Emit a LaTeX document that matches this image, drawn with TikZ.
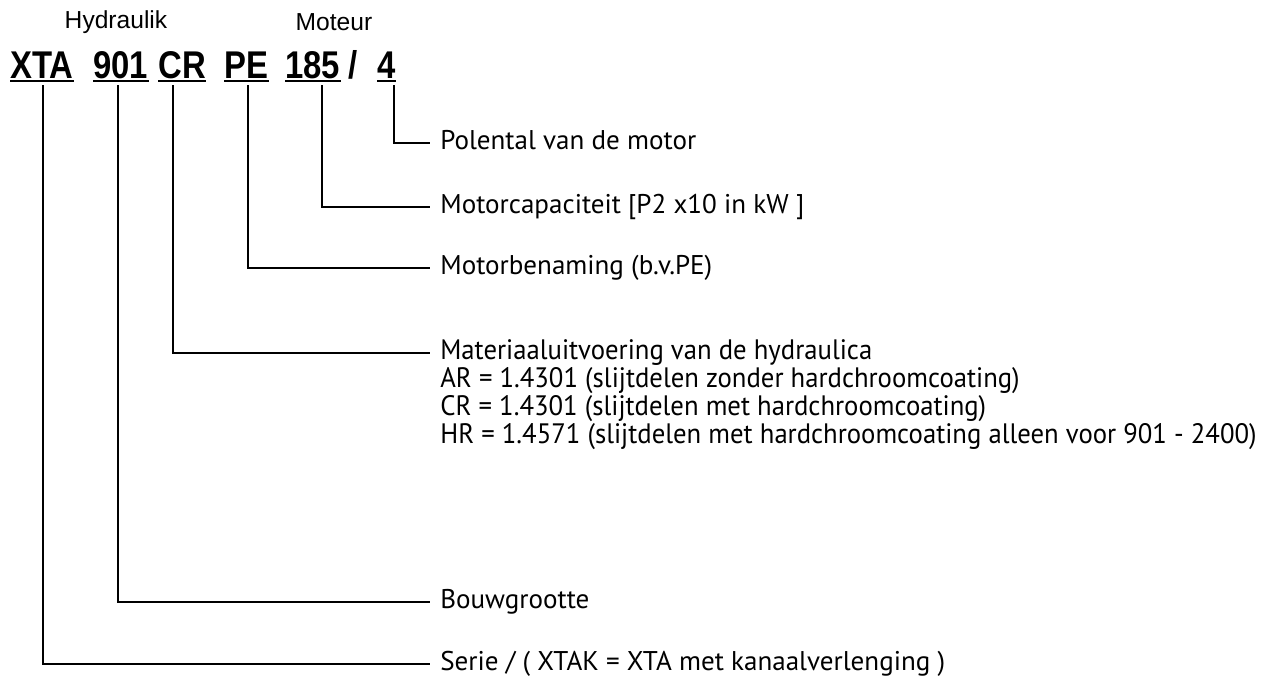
\documentclass[tikz,border=0pt]{standalone}
\usepackage{fontspec}
\setmainfont{Liberation Sans}
\newfontfamily\codefont[FakeStretch=0.85]{Liberation Sans}
\newfontfamily\labelfont{PT Sans}
\newfontfamily\matfont[FakeStretch=0.95]{PT Sans}

\begin{document}
\begin{tikzpicture}[x = 0.02cm, y = -0.02cm,
    code/.style = {font = \codefont\fontsize{22pt}{26pt}\selectfont\bfseries, inner sep = 0pt, anchor = base west},
    head/.style = {font = \fontsize{14pt}{17pt}\selectfont, inner sep = 0pt},
    lbl/.style = {font = \labelfont\fontsize{15.4pt}{18pt}\selectfont, anchor = west, inner xsep = 0.2cm, inner ysep = 0pt, text height = 0.7em, text depth = 0pt},
    mat/.style = {lbl, font = \matfont\fontsize{16pt}{19pt}\selectfont},
    conn/.style = {line width = 0.8pt},
    uline/.style = {line width = 1.4pt}]
    \useasboundingbox (0,0) rectangle (1266,680);
    % header
    \node[head] (hyd) at (116,22) {Hydraulik};
    \node[head] (mot) at (334,22) {Moteur};
    \node[code] (xta) at (10,78) {XTA};
    \node[code] (nr) at (93,78) {901};
    \node[code] (cr) at (158,78) {CR};
    \node[code] (pe) at (224,78) {PE};
    \node[code] (kw) at (285,78) {185};
    \node[code] (sl) at (348,78) {/};
    \node[code] (pol) at (377,78) {4};
    \foreach \n in {xta, nr, cr, pe, kw, pol}
        \draw[uline] ([yshift = -1.6pt]\n.base west) -- ([yshift = -1.6pt]\n.base east);
    % labels
    \node[lbl] (t4) at (430,143) {Polental van de motor};
    \node[lbl] (t185) at (430,207) {Motorcapaciteit [P2 x10 in kW ]};
    \node[lbl] (tpe) at (430,268) {Motorbenaming (b.v.PE)};
    \node[mat] (tcr) at (430,353) {Materiaaluitvoering van de hydraulica};
    \node[mat] (tar) at (430,381) {AR = 1.4301 (slijtdelen zonder hardchroomcoating)};
    \node[mat] (tcr2) at (430,409) {CR = 1.4301 (slijtdelen met hardchroomcoating)};
    \node[mat] (thr) at (430,437) {HR = 1.4571 (slijtdelen met hardchroomcoating alleen voor 901 - 2400)};
    \node[lbl] (t901) at (430,602) {Bouwgrootte};
    \node[lbl] (txta) at (430,664) {Serie / ( XTAK = XTA met kanaalverlenging )};
    % connectors
    \coordinate (cxta) at (43,85);
    \coordinate (cnr) at (118,85);
    \coordinate (ccr) at (173,85);
    \coordinate (cpe) at (248,85);
    \coordinate (ckw) at (322,85);
    \coordinate (cpol) at (394,85);
    \draw[conn] (cpol) |- (t4.west);
    \draw[conn] (ckw) |- (t185.west);
    \draw[conn] (cpe) |- (tpe.west);
    \draw[conn] (ccr) |- (tcr.west);
    \draw[conn] (cnr) |- (t901.west);
    \draw[conn] (cxta) |- (txta.west);
\end{tikzpicture}
\end{document}
